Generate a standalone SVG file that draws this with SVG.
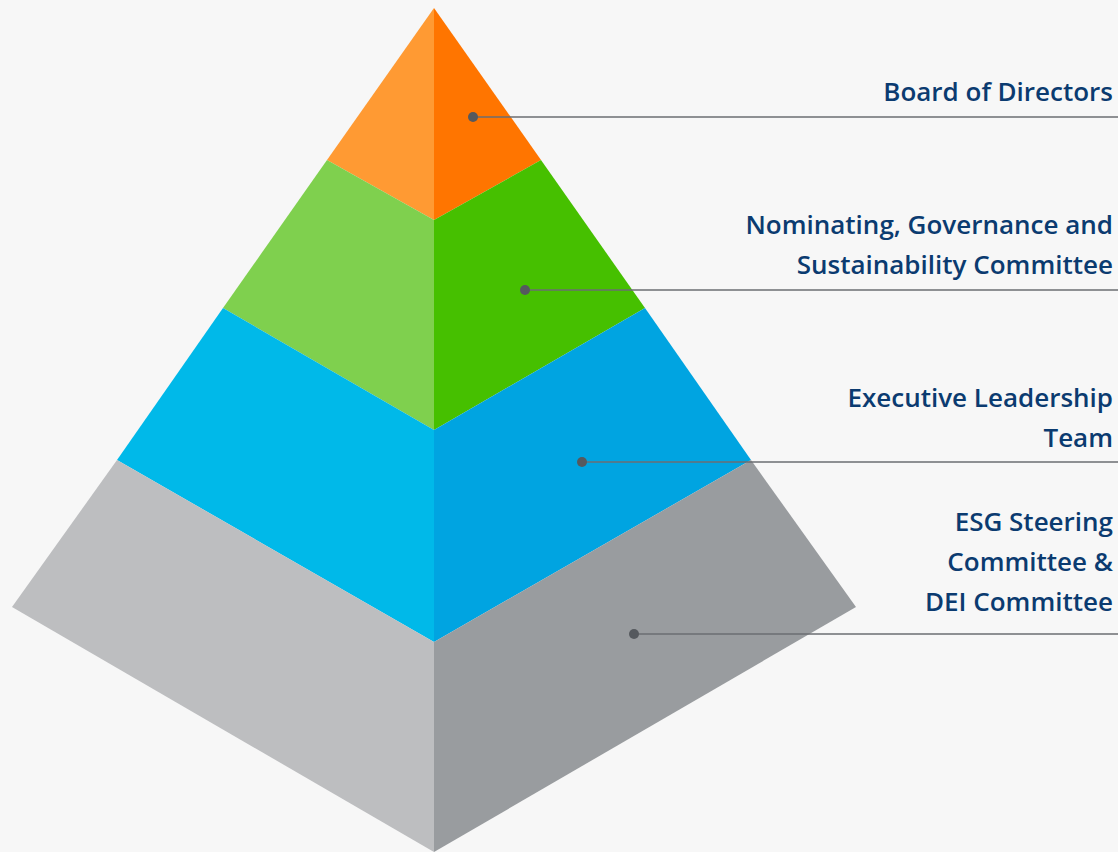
<svg xmlns="http://www.w3.org/2000/svg" width="1118" height="852" viewBox="0 0 1118 852">
<style>
.lbl{font-family:"Open Sans","Liberation Sans",sans-serif;font-size:26px;font-weight:600;fill:#0B3B70;text-anchor:end}
.ln{stroke:#6B6E72;stroke-width:1.5}
.dot{fill:#55595E}
</style>
<rect width="1118" height="852" fill="#F7F7F7"/>
<g id="tier-board">
<polygon points="434,8 327,160 434,220" fill="#FF9A33"/>
<polygon points="434,8 541,160 434,220" fill="#FF7500"/>
</g>
<g id="tier-ngsc">
<polygon points="327,160 434,220 434,430 223,308" fill="#7FD04E"/>
<polygon points="541,160 434,220 434,430 645,308" fill="#46C000"/>
</g>
<g id="tier-elt">
<polygon points="223,308 434,430 434,642 117,460" fill="#00B9E9"/>
<polygon points="645,308 434,430 434,642 751,460" fill="#00A4E1"/>
</g>
<g id="tier-esg">
<polygon points="117,460 434,642 434,852 12,607" fill="#BDBEC0"/>
<polygon points="751,460 434,642 434,852 856,607" fill="#999C9F"/>
</g>
<g id="connectors">
<line class="ln" x1="473" y1="117" x2="1118" y2="117"/>
<circle class="dot" cx="473" cy="117" r="5"/>
<line class="ln" x1="525" y1="290" x2="1118" y2="290"/>
<circle class="dot" cx="525" cy="290" r="5"/>
<line class="ln" x1="582" y1="462" x2="1118" y2="462"/>
<circle class="dot" cx="582" cy="462" r="5"/>
<line class="ln" x1="634" y1="634" x2="1118" y2="634"/>
<circle class="dot" cx="634" cy="634" r="5"/>
</g>
<g id="label-board"><text class="lbl" x="1113" y="101">Board of Directors</text></g>
<g id="label-ngsc"><text class="lbl" x="1113" y="234">Nominating, Governance and</text><text class="lbl" x="1113" y="274">Sustainability Committee</text></g>
<g id="label-elt"><text class="lbl" x="1113" y="407">Executive Leadership</text><text class="lbl" x="1113" y="447">Team</text></g>
<g id="label-esg"><text class="lbl" x="1113" y="531">ESG Steering</text><text class="lbl" x="1113" y="571">Committee &amp;</text><text class="lbl" x="1113" y="611">DEI Committee</text></g>
</svg>
